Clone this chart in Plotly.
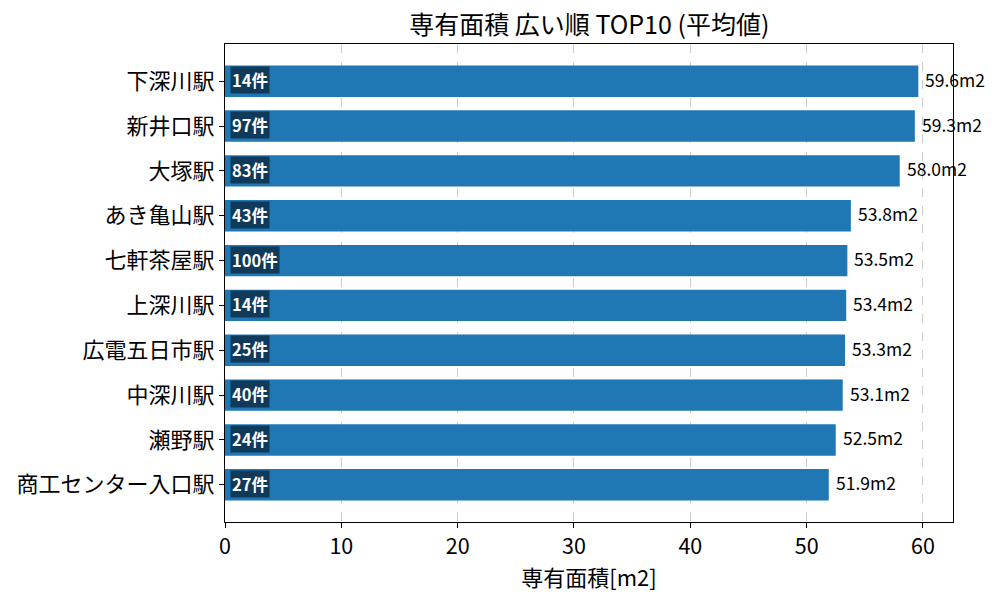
import plotly.graph_objects as go

stations = ["下深川駅", "新井口駅", "大塚駅", "あき亀山駅", "七軒茶屋駅",
            "上深川駅", "広電五日市駅", "中深川駅", "瀬野駅", "商工センター入口駅"]
areas = [59.6, 59.3, 58.0, 53.8, 53.5, 53.4, 53.3, 53.1, 52.5, 51.9]
counts = [14, 97, 83, 43, 100, 14, 25, 40, 24, 27]

FONT = "Noto Sans CJK JP"

fig = go.Figure()
fig.add_trace(go.Bar(
    x=areas, y=stations, orientation="h",
    marker=dict(color="#1f77b4", line=dict(width=0)),
    width=0.7, hoverinfo="skip",
))

annotations = []
for s, a, c in zip(stations, areas, counts):
    annotations.append(dict(
        x=a, y=s, xref="x", yref="y", text=f"{a:.1f}m2", showarrow=False,
        xanchor="left", yanchor="middle", xshift=5, yshift=2,
        font=dict(family=FONT, size=17.5, color="black"),
    ))
    annotations.append(dict(
        x=0, y=s, xref="x", yref="y", text=f"<b>{c}件</b>", showarrow=False,
        xanchor="left", yanchor="middle", xshift=5, yshift=1,
        font=dict(family=FONT, size=16.5, color="white"),
        bgcolor="#0f3a5a", borderpad=1,
    ))

fig.update_layout(
    width=1000, height=600,
    margin=dict(l=225, r=47, t=44, b=78),
    plot_bgcolor="white", paper_bgcolor="white",
    showlegend=False,
    font=dict(family=FONT, color="black"),
    title=dict(text="専有面積 広い順 TOP10 (平均値)", x=0.5893, xanchor="center",
               y=0.958, yanchor="middle", font=dict(family=FONT, size=25, color="black")),
    annotations=annotations,
    bargap=0.3,
)
fig.update_xaxes(
    range=[0, 62.58], tickvals=[0, 10, 20, 30, 40, 50, 60],
    showgrid=True, gridcolor="#cccccc", griddash="dash", gridwidth=1,
    showline=True, linecolor="black", linewidth=1, mirror=True,
    ticks="outside", ticklen=5, tickcolor="black",
    tickfont=dict(family=FONT, size=21.5),
    title=dict(text="専有面積[m2]", font=dict(family=FONT, size=22), standoff=6),
    zeroline=False,
)
fig.update_yaxes(
    type="category", categoryorder="array", categoryarray=stations,
    range=[9.83, -0.83],
    showgrid=False,
    showline=True, linecolor="black", linewidth=1, mirror=True,
    ticks="outside", ticklen=5, tickcolor="black",
    tickfont=dict(family=FONT, size=22),
)

fig.write_html("out.html")
